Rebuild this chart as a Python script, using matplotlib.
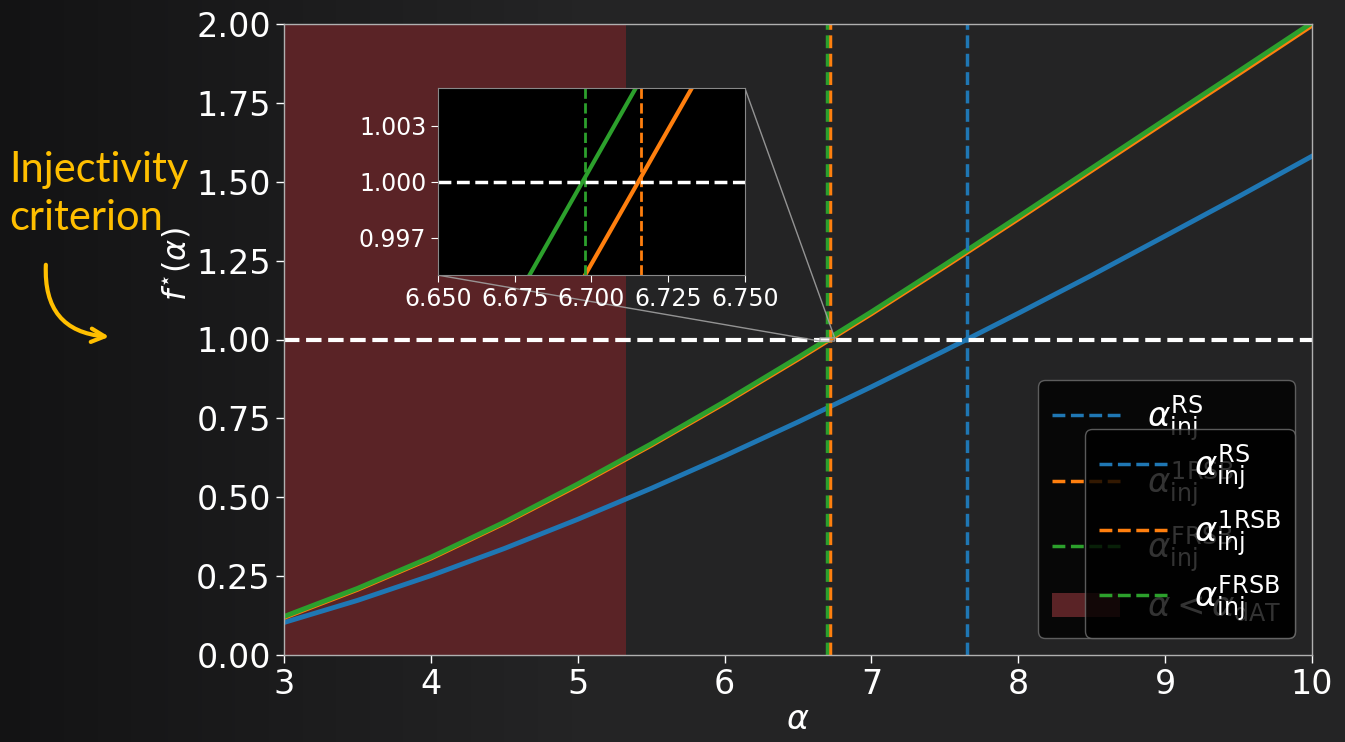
import numpy as np
import matplotlib.pyplot as plt
from matplotlib.patches import FancyArrowPatch

plt.rcParams["font.family"] = "DejaVu Sans"
plt.rcParams["mathtext.fontset"] = "dejavusans"

# f*(alpha) for the three replica ansatzes
alpha = [3.0, 3.5, 4.0, 4.5, 5.0, 5.5, 6.0, 6.5, 7.0, 7.5, 8.0, 8.5, 9.0, 9.5, 10.0]
f_rs = [0.103, 0.173, 0.2515, 0.3375, 0.430, 0.528, 0.631, 0.7385, 0.850, 0.965,
        1.083, 1.2035, 1.328, 1.453, 1.581]
f_1rsb = [0.119, 0.208, 0.307, 0.418, 0.538, 0.665, 0.7985, 0.938, 1.082, 1.231,
          1.3825, 1.536, 1.6895, 1.842, 1.996]
f_frsb = [0.122, 0.211, 0.310, 0.421, 0.542, 0.669, 0.803, 0.943, 1.0876, 1.237,
          1.389, 1.543, 1.697, 1.850, 2.004]

# thresholds
alpha_inj_rs = 7.65
alpha_inj_1rsb = 6.716
alpha_inj_frsb = 6.698
alpha_dat = 5.33

labels = [r"$\alpha_{\rm inj}^{\rm RS}$", r"$\alpha_{\rm inj}^{\rm 1RSB}$",
          r"$\alpha_{\rm inj}^{\rm FRSB}$", r"$\alpha < \alpha_{\rm dAT}$"]

W, H = 1345, 742
fig = plt.figure(figsize=(W / 100, H / 100), dpi=100)
fig.patch.set_facecolor("#222222")

# chalkboard-ish backdrop, darker on the left
bg = fig.add_axes([0, 0, 1, 1], zorder=-10)
xs = np.linspace(0, 1, 400)
shade = 0.075 + 0.07 * np.clip(xs / 0.45, 0, 1)
img = np.stack([shade, shade, shade + 0.004], axis=-1)[None, :, :].repeat(2, axis=0)
bg.imshow(img, aspect="auto", extent=[0, 1, 0, 1])
bg.axis("off")

ax = fig.add_axes([284 / W, 1 - 655 / H, 1028 / W, 631 / H])
ax.set_facecolor("none")

span = ax.axvspan(3, alpha_dat, color="#5a2326", lw=0)
ax.plot(alpha, f_rs, color="C0", lw=3.5)
ax.plot(alpha, f_1rsb, color="C1", lw=3.5)
ax.plot(alpha, f_frsb, color="C2", lw=3.5)
l_rs = ax.axvline(alpha_inj_rs, color="C0", ls="--", lw=2.5)
l_1rsb = ax.axvline(alpha_inj_1rsb, color="C1", ls="--", lw=2.5)
l_frsb = ax.axvline(alpha_inj_frsb, color="C2", ls="--", lw=2.5)
ax.axhline(1.0, color="white", ls="--", lw=3)

ax.set_xlim(3, 10)
ax.set_ylim(0, 2)
ax.set_yticks(np.arange(0, 2.01, 0.25))
ax.yaxis.set_major_formatter("{x:.2f}")
ax.set_xlabel(r"$\alpha$", fontsize=24, color="white", labelpad=1)
ax.set_ylabel(r"$f^{\star}(\alpha)$", fontsize=23, color="white")
ax.yaxis.set_label_coords(-0.088, 0.62)
ax.tick_params(colors="white", labelsize=24, length=6, width=1)
for sp in ax.spines.values():
    sp.set_color("#b0b0b0")
    sp.set_linewidth(1)

# zoom on the crossing with 1
axins = ax.inset_axes([0.1498, 0.602, 0.2986, 0.296])
axins.set_facecolor("black")
axins.plot(alpha, f_1rsb, color="C1", lw=3)
axins.plot(alpha, f_frsb, color="C2", lw=3)
axins.axvline(alpha_inj_1rsb, color="C1", ls="--", lw=2)
axins.axvline(alpha_inj_frsb, color="C2", ls="--", lw=2)
axins.axhline(1.0, color="white", ls="--", lw=2.5)
axins.set_xlim(6.65, 6.75)
axins.set_ylim(0.995, 1.005)
axins.set_xticks([6.65, 6.675, 6.7, 6.725, 6.75])
axins.set_yticks([0.997, 1.0, 1.003])
axins.xaxis.set_major_formatter("{x:.3f}")
axins.yaxis.set_major_formatter("{x:.3f}")
axins.tick_params(colors="white", labelsize=17, length=5)
for sp in axins.spines.values():
    sp.set_color("#888888")
ax.indicate_inset_zoom(axins, edgecolor="#a0a0a0", alpha=0.9, lw=1)

leg_kw = dict(loc="lower right", fontsize=24.5, labelspacing=0.45,
              facecolor="black", edgecolor="#707070", framealpha=0.8,
              labelcolor="white")
leg1 = ax.legend([l_rs, l_1rsb, l_frsb, span], labels, **leg_kw)
ax.add_artist(leg1)
ax.legend([l_rs, l_1rsb, l_frsb], labels[:3], **leg_kw)

# side note with curved arrow
yellow = "#ffbf00"
fig.text(9 / W, 1 - 182 / H, "Injectivity", color=yellow,
         fontsize=30, family="Lato", ha="left", va="baseline")
fig.text(9 / W, 1 - 230 / H, "criterion", color=yellow,
         fontsize=30, family="Lato", ha="left", va="baseline")
arrow = FancyArrowPatch((46 / W, 1 - 262 / H), (112 / W, 1 - 337 / H),
                        transform=fig.transFigure,
                        connectionstyle="arc3,rad=0.5", arrowstyle="->",
                        mutation_scale=24, color=yellow, lw=3)
fig.patches.append(arrow)

fig.savefig("out.png", dpi=100, facecolor=fig.get_facecolor())
